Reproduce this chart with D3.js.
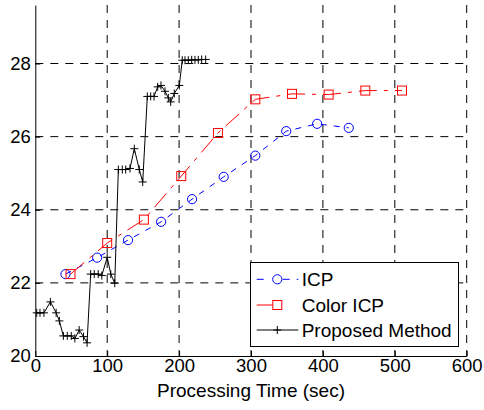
<!DOCTYPE html>
<html>
<head>
<meta charset="utf-8">
<script src="https://cdn.jsdelivr.net/npm/d3@7"></script>
<style>
    body { margin: 0; background: #fff; }
    svg text { font-family: "Liberation Sans", Arial, sans-serif; }
</style>
</head>
<body>
<div class="chart-container"></div>
<script>
// ICP
var icpTime = [42, 86, 129, 175, 218, 262, 306, 349, 392, 436];
var icpValue = [22.24, 22.69, 23.17, 23.67, 24.29, 24.90, 25.48, 26.15, 26.35, 26.24];

// Color ICP
var colorIcpTime = [49, 100, 151, 203, 254, 306, 357, 408, 459, 510];
var colorIcpValue = [22.24, 23.09, 23.73, 24.92, 26.10, 27.02, 27.17, 27.15, 27.26, 27.26];

// Proposed method
var proposedTime = [2, 6.5, 12, 21, 29, 33.5, 39, 44.5, 50, 55, 61, 67, 72,
    77, 82, 87.5, 92.5, 100, 105, 110.5,
    115.5, 121, 125.7, 131.7, 137.7, 144.6, 149.4,
    155.8, 160.5, 165.1, 170.2, 174.8, 180.4, 185, 188.3, 193.3, 200.3,
    204.4, 208.2, 212.8, 217.5, 222.1, 226.7, 231.4, 237];
var proposedValue = [21.18, 21.18, 21.18, 21.48, 21.18, 20.96, 20.55, 20.55, 20.55, 20.48, 20.71, 20.53, 20.36,
    22.24, 22.24, 22.24, 22.2, 22.70, 22.24, 21.99,
    25.10, 25.10, 25.10, 25.13, 25.67, 25.10, 24.76,
    27.10, 27.10, 27.10, 27.36, 27.40, 27.24, 27.06, 26.95, 27.18, 27.40,
    28.09, 28.09, 28.09, 28.10, 28.10, 28.10, 28.11, 28.11];

var xTicks = [0, 100, 200, 300, 400, 500, 600];
var yTicks = [20, 22, 24, 26, 28];
var legendNames = ['ICP', 'Color ICP', 'Proposed Method'];

var chart = {
    draw: function () {
        this.defineComponents();
        this.addGrid();
        this.addSeries();
        this.addAxises();
        this.addLegend();
    },
    defineComponents: function () {
        this.left = 35.3;
        this.right = 466.7;
        this.top = 5;
        this.bottom = 356;

        this.svg = d3.select('.chart-container')
            .append('svg')
            .attr('width', 484)
            .attr('height', 410);

        this.xScale = d3.scaleLinear().domain([0, 600]).range([this.left, this.right]);
        this.yScale = d3.scaleLinear().domain([20, 29.6]).range([this.bottom, this.top]);

        this.series = [
            {xs: icpTime, ys: icpValue, color: '#0000ff', dash: '6,7', marker: 'circle'},
            {xs: colorIcpTime, ys: colorIcpValue, color: '#ff0000', dash: '18,7,4,7', marker: 'square'},
            {xs: proposedTime, ys: proposedValue, color: '#000000', dash: null, marker: 'plus'}
        ];
    },
    addGrid: function () {
        var that = this;
        var grid = this.svg.append('g')
            .attr('stroke', '#000')
            .attr('stroke-width', 1)
            .attr('stroke-dasharray', '8,7');

        grid.selectAll('.vgrid')
            .data(xTicks.slice(1))
            .enter()
            .append('line')
            .attr('x1', function (d) { return that.xScale(d); })
            .attr('x2', function (d) { return that.xScale(d); })
            .attr('y1', this.top)
            .attr('y2', this.bottom);

        grid.selectAll('.hgrid')
            .data(yTicks.slice(1))
            .enter()
            .append('line')
            .attr('x1', this.left)
            .attr('x2', this.right)
            .attr('y1', function (d) { return that.yScale(d); })
            .attr('y2', function (d) { return that.yScale(d); });
    },
    drawMarker: function (sel, marker, color) {
        if (marker === 'circle') {
            sel.append('circle').attr('r', 4.6);
        } else if (marker === 'square') {
            sel.append('rect').attr('x', -4.5).attr('y', -4.5).attr('width', 9).attr('height', 9);
        } else {
            sel.append('path').attr('d', 'M-4,0H4M0,-4V4');
        }
        sel.attr('fill', 'none').attr('stroke', color).attr('stroke-width', 1);
    },
    addSeries: function () {
        var that = this;
        this.series.forEach(function (s) {
            var pts = s.xs.map(function (x, i) { return [x, s.ys[i]]; });

            that.svg.append('path')
                .datum(pts)
                .attr('fill', 'none')
                .attr('stroke', s.color)
                .attr('stroke-width', 1)
                .attr('stroke-dasharray', s.dash)
                .attr('d', d3.line()
                    .x(function (d) { return that.xScale(d[0]); })
                    .y(function (d) { return that.yScale(d[1]); }));

            that.svg.selectAll('.m')
                .data(pts)
                .enter()
                .append('g')
                .attr('transform', function (d) {
                    return 'translate(' + that.xScale(d[0]) + ',' + that.yScale(d[1]) + ')';
                })
                .each(function () {
                    that.drawMarker(d3.select(this), s.marker, s.color);
                });
        });
    },
    addAxises: function () {
        var xAxis = d3.axisBottom(this.xScale)
            .tickValues(xTicks)
            .tickSize(-5)
            .tickSizeOuter(0)
            .tickPadding(3);
        var gx = this.svg.append('g')
            .attr('transform', 'translate(0,' + this.bottom + ')')
            .call(xAxis);

        var yAxis = d3.axisLeft(this.yScale)
            .tickValues(yTicks)
            .tickSize(-5)
            .tickSizeOuter(0)
            .tickPadding(4.5);
        var gy = this.svg.append('g')
            .attr('transform', 'translate(' + this.left + ',0)')
            .call(yAxis);

        [gx, gy].forEach(function (g) {
            g.selectAll('text').attr('font-size', '18.5px').attr('fill', '#000')
                .attr('font-family', '"Liberation Sans", Arial, sans-serif');
            g.selectAll('line, path').attr('stroke', '#000');
        });

        this.svg.append('text')
            .attr('x', (this.left + this.right) / 2)
            .attr('y', 397)
            .attr('text-anchor', 'middle')
            .attr('font-size', '19px')
            .text('Processing Time (sec)');
    },
    addLegend: function () {
        var that = this;
        var lg = this.svg.append('g');
        lg.append('rect')
            .attr('x', 250.5)
            .attr('y', 262.5)
            .attr('width', 208)
            .attr('height', 84)
            .attr('fill', '#fff')
            .attr('stroke', '#000');

        var rowsY = [279.3, 305, 330];
        this.series.forEach(function (s, i) {
            var row = lg.append('g').attr('transform', 'translate(0,' + rowsY[i] + ')');
            row.append('line')
                .attr('x1', 256.7)
                .attr('x2', 298.3)
                .attr('stroke', s.color)
                .attr('stroke-dasharray', s.dash ? (i === 0 ? '7,19,7' : '16,26,1') : null);
            var m = row.append('g').attr('transform', 'translate(277.3,0)');
            that.drawMarker(m, s.marker, s.color);
            row.append('text')
                .attr('x', 301.7)
                .attr('dy', '0.35em')
                .attr('font-size', '19px')
                .text(legendNames[i]);
        });
    }
};

chart.draw();
</script>
</body>
</html>
